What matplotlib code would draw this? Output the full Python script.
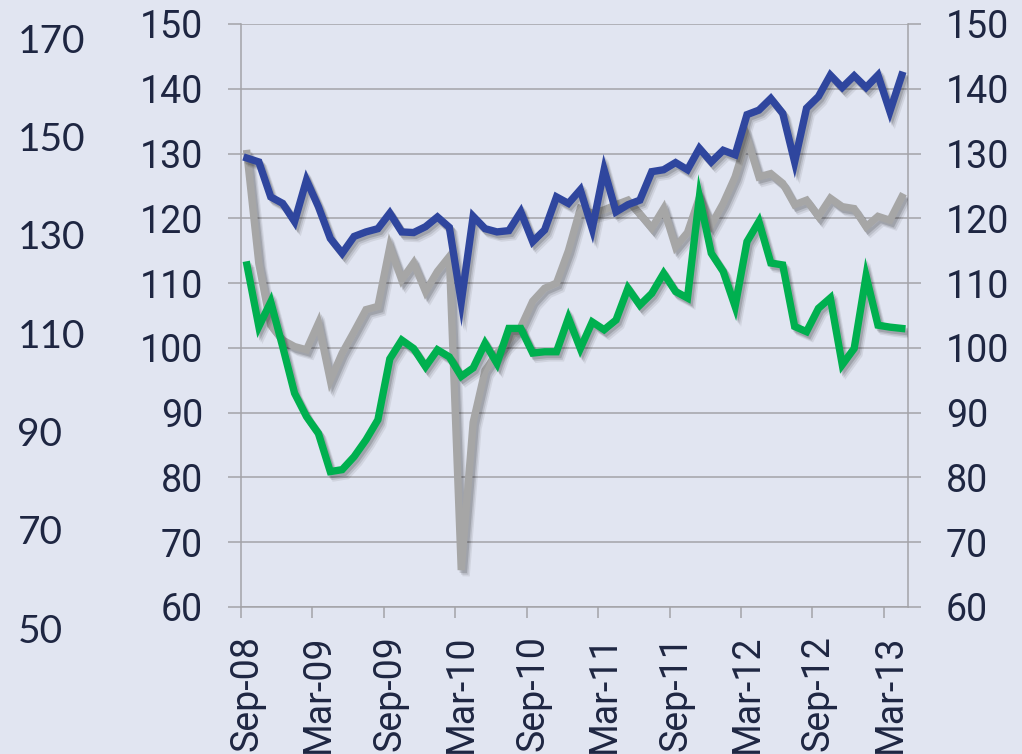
import numpy as np
import matplotlib
matplotlib.use("Agg")
import matplotlib.pyplot as plt
import matplotlib.patheffects as pe

# monthly series, Sep-08 .. Apr-13 (56 points)
blue = [129.3, 128.7, 123.3, 122.3, 119.5, 125.9, 121.8, 116.9, 114.6, 117.2,
        117.9, 118.4, 120.8, 117.9, 117.8, 118.7, 120.2, 118.6, 107.1, 120.3,
        118.4, 117.9, 118.1, 121.0, 116.4, 118.2, 123.3, 122.3, 124.4, 118.4,
        127.5, 121.0, 122.1, 122.8, 127.2, 127.5, 128.6, 127.5, 130.8, 128.7,
        130.5, 129.8, 136.0, 136.7, 138.5, 136.2, 128.7, 137.0, 138.8, 142.1,
        140.2, 142.0, 140.2, 142.1, 136.5, 142.1]
grey = [130.0, 113.0, 103.5, 101.2, 100.2, 99.7, 103.8, 95.0, 99.2, 102.5,
        105.9, 106.4, 115.6, 110.5, 113.1, 108.7, 111.8, 114.1, 65.7, 88.5,
        96.5, 99.2, 101.2, 103.2, 107.2, 109.2, 110.0, 115.0, 121.5, 120.8,
        121.3, 122.1, 122.8, 120.7, 118.5, 121.5, 115.6, 117.8, 123.2, 119.0,
        122.3, 126.4, 132.4, 126.4, 126.9, 125.4, 122.1, 122.8, 120.3, 123.1,
        121.8, 121.5, 118.7, 120.3, 119.7, 123.3]
green = [112.8, 103.3, 107.1, 100.2, 93.0, 89.4, 86.8, 80.9, 81.2, 83.2,
         85.8, 88.9, 98.3, 101.2, 99.9, 97.1, 99.7, 98.6, 95.6, 96.9,
         100.7, 97.6, 103.0, 103.0, 99.2, 99.4, 99.4, 104.6, 99.9, 104.0,
         102.8, 104.3, 109.2, 106.6, 108.4, 111.5, 108.7, 107.7, 123.3, 114.6,
         111.8, 106.4, 116.4, 119.5, 113.1, 112.8, 103.3, 102.5, 106.1, 107.7,
         97.4, 99.9, 111.1, 103.5, 103.2, 103.0]

x_labels = ["Sep-08", "Mar-09", "Sep-09", "Mar-10", "Sep-10",
            "Mar-11", "Sep-11", "Mar-12", "Sep-12", "Mar-13"]
inner_ticks = [60, 70, 80, 90, 100, 110, 120, 130, 140, 150]
outer_ticks = [50, 70, 90, 110, 130, 150, 170]

bg = "#E1E5F1"
txt = "#1E2642"
gridc = "#A3A3A8"

fig = plt.figure(figsize=(10.22, 7.54), dpi=100, facecolor=bg)
ax = fig.add_axes([0.2358, 0.195, 0.6524, 0.7732])
ax.set_facecolor("none")

n = len(blue)
x = np.arange(n) + 0.5


def shadow():
    # soft drop shadow to the lower right
    return [pe.SimpleLineShadow(offset=(1.5, -2), shadow_color="k", alpha=0.14),
            pe.SimpleLineShadow(offset=(2.5, -3.2), shadow_color="k", alpha=0.10),
            pe.SimpleLineShadow(offset=(3.5, -4.4), shadow_color="k", alpha=0.07),
            pe.Normal()]


lw = 5.3
ax.plot(x, grey, color="#A6A6A6", lw=lw, solid_joinstyle="miter", zorder=3, path_effects=shadow())
ax.plot(x, blue, color="#2F469E", lw=lw, solid_joinstyle="miter", zorder=4, path_effects=shadow())
ax.plot(x, green, color="#00B04F", lw=lw, solid_joinstyle="miter", zorder=5, path_effects=shadow())

ax.set_xlim(0, n)
ax.set_ylim(60, 150)

# y axis left
ax.set_yticks(inner_ticks)
ax.set_yticklabels([str(t) for t in inner_ticks])
ax.tick_params(axis="y", direction="out", length=9.4, width=1.1, color=gridc,
               pad=18, labelsize=27, labelcolor=txt)
ax.grid(axis="y", color=gridc, lw=1.1, zorder=1)

# x axis: labels at category centres, tick marks between categories
ax.set_xticks(np.arange(0, n - 1, 6) + 0.5)
ax.set_xticklabels(x_labels, rotation=90)
ax.set_xticks(np.arange(0, n - 1, 6), minor=True)
ax.tick_params(axis="x", which="major", length=0, pad=20, labelsize=27, labelcolor=txt)
ax.tick_params(axis="x", which="minor", direction="out", length=8, width=1.1, color=gridc)

for s in ["left", "right", "bottom"]:
    ax.spines[s].set_color(gridc)
    ax.spines[s].set_linewidth(1.1)
ax.spines["top"].set_visible(False)

# right axis
ax2 = ax.twinx()
ax2.set_ylim(60, 150)
ax2.set_yticks(inner_ticks)
ax2.set_yticklabels([str(t) for t in inner_ticks])
ax2.tick_params(axis="y", direction="out", length=9.4, width=1.1, color=gridc,
                pad=18, labelsize=27, labelcolor=txt)
for s in ax2.spines.values():
    s.set_visible(False)

# far left axis (labels only)
ax3 = fig.add_axes([0.0166, 0.1671, 0.0005, 0.7825])
ax3.set_facecolor("none")
ax3.set_ylim(50, 170)
ax3.set_xticks([])
ax3.set_yticks(outer_ticks)
ax3.set_yticklabels([str(t) for t in outer_ticks])
ax3.yaxis.tick_right()
ax3.tick_params(axis="y", length=0, pad=0, labelsize=28, labelcolor=txt)
for lab in ax3.get_yticklabels():
    lab.set_fontfamily("Lato")
for s in ax3.spines.values():
    s.set_visible(False)

for lab in ax.get_xticklabels() + ax.get_yticklabels() + ax2.get_yticklabels():
    lab.set_fontfamily("Roboto")

fig.savefig("out.png", dpi=100, facecolor=bg)
